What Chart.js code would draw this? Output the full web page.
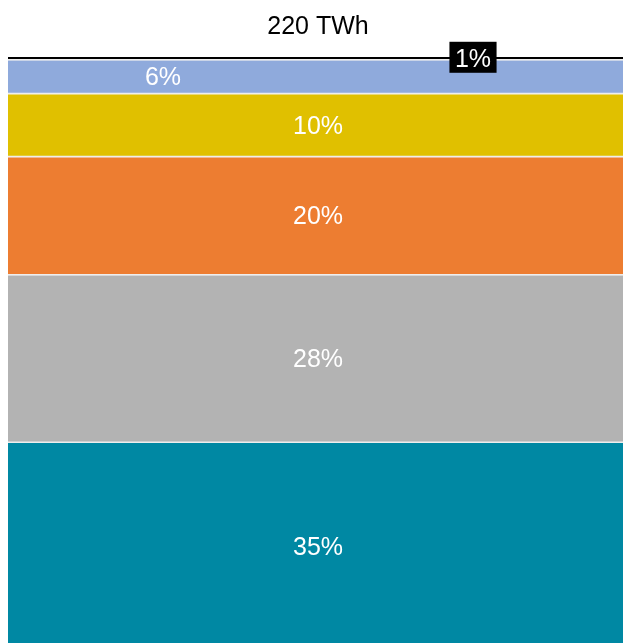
<!DOCTYPE html>
<html>
<head>
<meta charset="utf-8">
<script src="https://cdn.jsdelivr.net/npm/chart.js@4"></script>
<style>
  html, body { margin: 0; padding: 0; background: #fff; overflow: hidden; }
  #wrap { width: 623px; height: 643px; overflow: hidden; position: relative; }
  #box { width: 628px; height: 652px; position: absolute; left: 0; top: 0; }
</style>
</head>
<body>
<div id="wrap"><div id="box"><canvas id="chart"></canvas></div></div>
<script>
// dati (dal basso verso l'alto)
const category = ['220 TWh'];
const shares   = [35.0, 28.2, 19.9, 10.6, 5.7, 0.6];
const labels   = ['35%', '28%', '20%', '10%', '6%', '1%'];
const colors   = ['#0088A3', '#B3B3B3', '#ED7D31', '#E0C000', '#8FAADC', '#000000'];

// posizione orizzontale delle etichette (frazione della barra) e box di sfondo
const labelX   = [0.5, 0.5, 0.5, 0.5, 0.25, 0.75];
const labelBox = [null, null, null, null, null, '#000000'];

const segLabels = {
  id: 'segLabels',
  afterDatasetsDraw(chart) {
    const ctx = chart.ctx;
    ctx.save();
    ctx.font = '25px "Liberation Sans", Arial, sans-serif';
    ctx.textAlign = 'center';
    ctx.textBaseline = 'middle';
    chart.data.datasets.forEach((ds, i) => {
      const el = chart.getDatasetMeta(i).data[0];
      if (!el) return;
      const x = el.x - el.width / 2 + labelX[i] * el.width;
      const y = (el.y + el.base) / 2;
      const txt = labels[i];
      if (labelBox[i]) {
        const w = ctx.measureText(txt).width + 11;
        ctx.fillStyle = labelBox[i];
        ctx.fillRect(x - w / 2, y - 17, w, 31);
      }
      ctx.fillStyle = '#ffffff';
      ctx.fillText(txt, x, y + 1);
    });
    ctx.restore();
  }
};

new Chart(document.getElementById('chart'), {
  type: 'bar',
  data: {
    labels: category,
    datasets: shares.map((v, i) => ({
      label: labels[i],
      data: [v],
      backgroundColor: colors[i],
      borderColor: '#eeeeee',
      borderWidth: { top: 0, left: 0, right: 0, bottom: 2 },
      borderSkipped: false,
      barPercentage: 1,
      categoryPercentage: 1
    }))
  },
  options: {
    responsive: true,
    maintainAspectRatio: false,
    animation: false,
    layout: { padding: { left: 8, right: 0, top: 0, bottom: 1 } },
    scales: {
      x: { stacked: true, display: false },
      y: { stacked: true, display: false, min: 0, max: 100 }
    },
    plugins: {
      legend: { display: false },
      tooltip: { enabled: false },
      title: {
        display: true,
        text: category[0],
        color: '#000',
        font: { family: '"Liberation Sans", Arial, sans-serif', size: 25, weight: 'normal' },
        padding: { top: 12, bottom: 15 }
      }
    }
  },
  plugins: [segLabels]
});
</script>
</body>
</html>
